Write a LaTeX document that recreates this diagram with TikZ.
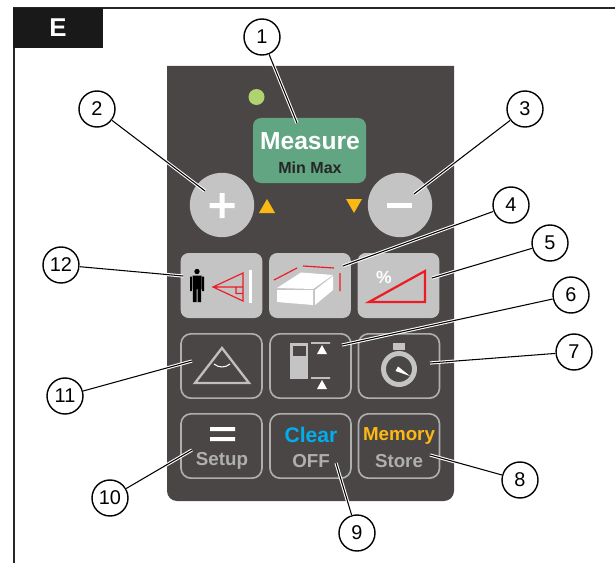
\documentclass[tikz,border=0pt]{standalone}
\usepackage{fontspec}
\setmainfont{Liberation Sans}
\definecolor{panelc}{HTML}{4A4645}
\definecolor{keyc}{HTML}{C4C4C4}
\definecolor{edgec}{HTML}{AFAFAF}
\definecolor{greenc}{HTML}{62A583}
\definecolor{ledc}{HTML}{AED36F}
\definecolor{amberc}{HTML}{FDB913}
\definecolor{bluec}{HTML}{00AEEF}
\definecolor{redc}{HTML}{ED1C24}
\tikzset{ num/.style = { circle % callout number
, draw
, fill = white
, line width = 1.2pt
, minimum size = 1.08cm
, inner sep = 0pt
, font = \fontsize{17}{17}\selectfont
}
, leader/.style = { black % double leader line
, line width = 0.9pt
, preaction = {draw, white, line width = 2.7pt}
}
, solidkey/.style = { rectangle % filled key
, rounded corners = 0.24cm
, fill = keyc
, minimum width = 2.45cm
, minimum height = 1.95cm
}
, framekey/.style = { rectangle % outlined key
, rounded corners = 0.3cm
, draw = edgec
, line width = 1.4pt
, minimum width = 2.43cm
, minimum height = 1.93cm
}
, round/.style = { circle % plus and minus
, fill = keyc
, minimum size = 1.93cm
}
, lab/.style = { font = \fontsize{16}{16}\selectfont\bfseries % key text
, text = edgec
, inner sep = 0pt
}
, redl/.style = { draw = redc
, line width = 1pt
}
}
\begin{document}
\begin{tikzpicture}[x=0.03cm, y=-0.03cm]
\useasboundingbox (0,0) rectangle (615,563);
% frame and tab
\draw[line width=1.3pt, black!85] (14,563) -- (14,8) -- (615,8);
\node[fill=black!90, minimum width=2.7cm, minimum height=1.2cm, inner sep=0pt, text=white, font=\fontsize{22}{22}\selectfont\bfseries] (tab) at (58,28) {E};
% panel
\fill[panelc] (167,66) -- (454,66) [rounded corners=0.3cm] -- (454,501) -- (167,501) [sharp corners] -- cycle;
\fill[ledc] (256.5,97) circle (8);
\node[fill=greenc, rounded corners=0.24cm, minimum width=3.39cm, minimum height=1.95cm] (measure) at (309.5,150.5) {};
\node[inner sep=0pt, text=white, font=\fontsize{21}{21}\selectfont\bfseries] (mtext) at (310,141) {Measure};
\node[inner sep=0pt, text=black!85, font=\fontsize{13.7}{14}\selectfont\bfseries] (mmtext) at (310,168) {Min Max};
\node[round] (plus) at (222,205) {};
\node[round] (minus) at (400,205) {};
\fill[white] (209.5,203) rectangle (234.5,208) (219.5,193) rectangle (224.5,218);
\fill[white] (387,203) rectangle (412,208);
\fill[amberc] (259,213) -- (267,199) -- (275,213) -- cycle;
\fill[amberc] (346,199) -- (362,199) -- (354,213) -- cycle;
% keys
\foreach \x/\nm in {221.5/person, 310/box, 398.5/slope} \node[solidkey] (\nm) at (\x,285.5) {};
\foreach \x/\nm in {221.5/angle, 310.5/stack, 399/watch} \node[framekey] (\nm) at (\x,366) {};
\foreach \x/\nm in {221.5/setup, 310.5/clear, 399/memory} \node[framekey] (\nm) at (\x,446) {};
% person
\fill[black] (197,271.5) circle (2.7);
\fill[black] (192.5,275.5) rectangle (201.5,289) (190,276.5) rectangle (191.8,291) (202.2,276.5) rectangle (204,291) (192.8,289) rectangle (196.5,302) (197.5,289) rectangle (201.2,302);
\draw[redl] (213,287) -- (243,273) -- (243,301) -- cycle (213,287) -- (243,287) (236,287) -- (236,293.5) -- (243,293.5);
\fill[white] (249,270) rectangle (252,303);
% box
\fill[white] (277,288) -- (301,272.5) -- (333,275) -- (313,289) -- cycle;
\fill[white] (277,290) -- (313,290) -- (313,305) -- (277,302) -- cycle;
\fill[white] (315,290) -- (333,276) -- (333,290) -- (315,305) -- cycle;
\draw[redl] (274,280) -- (297,268) (303,266) -- (334,268) (340,273) -- (340,291);
% slope
\draw[redc, line width=1.9pt] (369,302) -- (425,271) -- (425,302) -- cycle;
\node[inner sep=0pt, text=white, font=\fontsize{15}{15}\selectfont\bfseries] (pct) at (384,277) {\%};
% angle
\draw[edgec!80!white, line width=2pt] (222,348) -- (195,383) -- (249,383) -- cycle;
\draw[white, line width=0.9pt] (214,364) .. controls (219,368) and (225,368) .. (230,364);
% stack
\fill[keyc] (290,343) rectangle (308,379);
\fill[panelc] (293,346) rectangle (306,356);
\fill[white] (311,342.3) rectangle (330,343.7) (311,377.3) rectangle (330,378.7);
\fill[white] (322,345) -- (327,354) -- (317,354) -- cycle (322,380) -- (327,389) -- (317,389) -- cycle;
% watch
\fill[keyc] (393,343) rectangle (405,350);
\draw[keyc, line width=4.2pt] (399,369) circle (15.5);
\fill[white] (395.5,371) -- (398,366.5) -- (410,376) -- cycle;
% bottom row text
\fill[white] (210,427) rectangle (235,431) (210,437) rectangle (235,441);
\node[lab] (setupt) at (222,461) {Setup};
\node[lab, text=bluec, font=\fontsize{18}{18}\selectfont\bfseries] (cleart) at (311,435) {Clear};
\node[lab] (offt) at (311,461) {OFF};
\node[lab, text=amberc] (memt) at (399,436) {Memory};
\node[lab] (storet) at (399,461) {Store};
% callouts
\foreach[count=\n] \a/\b in {262/37, 97/109, 525/109, 511/205, 550/243, 571/295, 574/352, 520/480, 357/533, 110/498, 65/396, 61/265} \node[num] (k\n) at (\a,\b) {\n};
\foreach[count=\n] \a/\b in {297/123, 205/191, 414/194, 343/266, 432/278, 342/345, 430/363, 430/455, 336/463, 192/450, 192/361, 183/276} \coordinate (e\n) at (\a,\b);
\foreach \n in {1,...,12} \draw[leader] (k\n) -- (e\n);
\end{tikzpicture}
\end{document}
